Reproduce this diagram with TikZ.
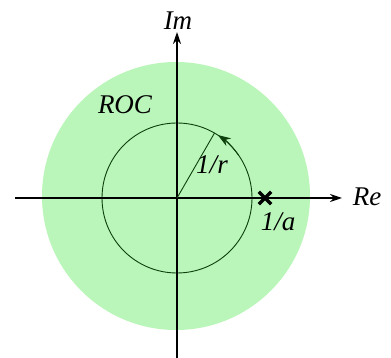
\documentclass[tikz,border=0pt]{standalone}
\usepackage{fontspec}
\setmainfont{Liberation Serif}
\usetikzlibrary{arrows.meta,calc}
\definecolor{rocgreen}{rgb}{0.73,0.96,0.73}
\definecolor{circline}{rgb}{0.05,0.25,0.05}
\begin{document}
\begin{tikzpicture}[x=1pt,y=1pt,
  lbl/.style={font=\fontsize{27}{31}\selectfont\itshape, inner sep=0pt},
  axis/.style={line width=1.8pt, -{Stealth[length=12pt,width=8pt]}},
  thin circ/.style={line width=0.9pt, draw=circline}]
\useasboundingbox (0,0) rectangle (391,358);
\fill[rocgreen] (176,162) circle (134);
\coordinate (O) at (177,160);
\draw[thin circ] (O) circle (75);
\coordinate (xl) at (15,160);
\coordinate (xr) at (342,160);
\coordinate (yb) at (177,0);
\coordinate (yt) at (177,326);
\draw[axis] (xl) -- (xr);
\draw[axis] (yb) -- (yt);
\coordinate (R) at ($(O)+(60:75)$);
\draw[thin circ] (O) -- (R);
\draw[thin circ, -{Stealth[length=13pt,width=9pt]}] ([shift={(35:75)}]O) arc (35:57:75);
\node[lbl] (im) at (178,337) {Im};
\node[lbl] (re) at (367,161) {Re};
\node[lbl] (roc) at (125,253) {ROC};
\node[lbl] (r) at (212,193) {1/r};
\node[lbl] (a) at (278,136) {1/a};
\node[inner sep=0pt, minimum size=12pt] (pole) at (265,160) {};
\draw[line width=3.4pt] (pole.north west) -- (pole.south east) (pole.north east) -- (pole.south west);
\end{tikzpicture}
\end{document}
